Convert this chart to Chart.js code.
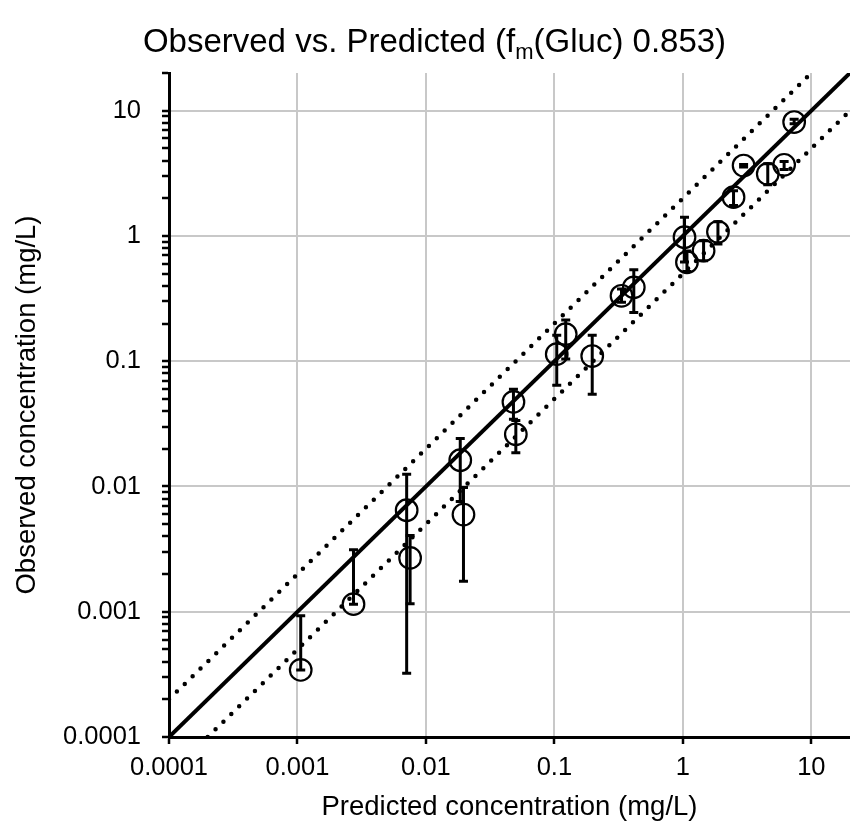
<!DOCTYPE html>
<html>
<head>
<meta charset="utf-8">
<script src="https://cdn.jsdelivr.net/npm/chart.js@4/dist/chart.umd.min.js"></script>
<style>
  html, body { margin: 0; padding: 0; background: #fff; }
  canvas { display: block; }
</style>
</head>
<body>
<canvas id="chart" width="850" height="827"></canvas>
<script>
// Observed vs predicted concentrations (mg/L), with observed ranges
const predicted    = [0.00106, 0.00273, 0.00708, 0.00753, 0.0185, 0.0196, 0.048, 0.0501, 0.1043, 0.1225, 0.197, 0.333, 0.415, 1.03, 1.076, 1.45, 1.875, 2.48, 2.97, 4.58, 6.14, 7.35];
const observed     = [0.000343, 0.00115, 0.00646, 0.00269, 0.0162, 0.00597, 0.0473, 0.0261, 0.1138, 0.1645, 0.110, 0.333, 0.389, 0.977, 0.617, 0.763, 1.08, 2.04, 3.65, 3.13, 3.70, 8.12];
const observedLow  = [0.000343, 0.00115, 0.000323, 0.00116, 0.0076, 0.00175, 0.0344, 0.0186, 0.0643, 0.104, 0.0545, 0.295, 0.245, 0.62, 0.52, 0.634, 0.863, 1.75, 3.55, 2.56, 3.39, 7.87];
const observedHigh = [0.00093, 0.00313, 0.0125, 0.00407, 0.0242, 0.0098, 0.0597, 0.0337, 0.161, 0.213, 0.161, 0.377, 0.537, 1.41, 0.76, 0.917, 1.30, 2.30, 3.72, 3.77, 3.93, 8.53];

// Axis range, decade ticks and their labels
const axisMin = 0.0001;
const axisMax = 20;
const decadeTicks  = [0.0001, 0.001, 0.01, 0.1, 1, 10];
const decadeLabels = ['0.0001', '0.001', '0.01', '0.1', '1', '10'];
const minorSteps   = [2, 3, 4, 5, 6, 7, 8, 9];

// Two-fold band around the line of unity
const foldBand = 2;

const FONT = "'Liberation Sans', Arial, Helvetica, sans-serif";

const points = predicted.map((x, i) => ({ x: x, y: observed[i], lo: observedLow[i], hi: observedHigh[i] }));

const unity = [{ x: axisMin, y: axisMin }, { x: axisMax, y: axisMax }];
const upperBand = [{ x: axisMin, y: axisMin * foldBand }, { x: axisMax / foldBand, y: axisMax }];
const lowerBand = [{ x: axisMin * foldBand, y: axisMin }, { x: axisMax, y: axisMax / foldBand }];

function isDecade(v) {
  return decadeTicks.some(d => Math.abs(v / d - 1) < 1e-6);
}
function labelFor(v) {
  const i = decadeTicks.findIndex(d => Math.abs(v / d - 1) < 1e-6);
  return i >= 0 ? decadeLabels[i] : '';
}

// Error bars drawn from each point's low/high values through the y scale
const errorBars = {
  id: 'errorBars',
  afterDatasetsDraw(chart) {
    const { ctx, scales: { x, y } } = chart;
    ctx.save();
    ctx.strokeStyle = '#000';
    ctx.lineWidth = 3;
    ctx.lineCap = 'butt';
    const cap = 4.5;
    points.forEach(p => {
      const px = x.getPixelForValue(p.x);
      const y1 = y.getPixelForValue(p.lo);
      const y2 = y.getPixelForValue(p.hi);
      ctx.beginPath();
      ctx.moveTo(px, y1); ctx.lineTo(px, y2);
      ctx.moveTo(px - cap, y1); ctx.lineTo(px + cap, y1);
      ctx.moveTo(px - cap, y2); ctx.lineTo(px + cap, y2);
      ctx.stroke();
    });
    ctx.restore();
  }
};

// Title with a subscript "m"
const titleWithSubscript = {
  id: 'titleWithSubscript',
  afterDraw(chart) {
    const ctx = chart.ctx;
    const big = '33px ' + FONT;
    const small = '22px ' + FONT;
    const parts = [
      { t: 'Observed vs. Predicted (f', f: big, dy: 0 },
      { t: 'm', f: small, dy: 7 },
      { t: '(Gluc) 0.853)', f: big, dy: 0 }
    ];
    ctx.save();
    ctx.fillStyle = '#000';
    ctx.textBaseline = 'alphabetic';
    ctx.textAlign = 'left';
    let total = 0;
    parts.forEach(p => { ctx.font = p.f; p.w = ctx.measureText(p.t).width; total += p.w; });
    let cx = 434.5 - total / 2;
    const baseY = 52;
    parts.forEach(p => { ctx.font = p.f; ctx.fillText(p.t, cx, baseY + p.dy); cx += p.w; });
    ctx.restore();
  }
};

new Chart(document.getElementById('chart'), {
  type: 'scatter',
  data: {
    datasets: [
      {
        data: points,
        showLine: false,
        pointStyle: 'circle',
        pointRadius: 10.8,
        pointBorderWidth: 2.2,
        pointBorderColor: '#000',
        pointBackgroundColor: 'rgba(0,0,0,0)',
        order: 1
      },
      {
        data: unity,
        showLine: true,
        borderColor: '#000',
        borderWidth: 4,
        pointRadius: 0,
        order: 2
      },
      {
        data: upperBand,
        showLine: true,
        borderColor: '#000',
        borderWidth: 4.5,
        borderDash: [0, 11],
        borderCapStyle: 'round',
        pointRadius: 0,
        order: 3
      },
      {
        data: lowerBand,
        showLine: true,
        borderColor: '#000',
        borderWidth: 4.5,
        borderDash: [0, 11],
        borderCapStyle: 'round',
        pointRadius: 0,
        order: 3
      }
    ]
  },
  options: {
    responsive: false,
    animation: false,
    devicePixelRatio: 1,
    layout: { autoPadding: false, padding: { top: 73, right: 0, bottom: 0, left: 0 } },
    plugins: {
      legend: { display: false },
      tooltip: { enabled: false },
      title: { display: false }
    },
    scales: {
      x: {
        type: 'logarithmic',
        min: axisMin,
        max: axisMax,
        afterBuildTicks(scale) {
          scale.ticks = decadeTicks.map(v => ({ value: v, major: true }));
        },
        afterFit(scale) {
          scale.height = 90;
          scale.paddingLeft = 0;
          scale.paddingRight = 0;
        },
        border: { color: '#000', width: 3 },
        grid: {
          color: '#c8c8c8',
          lineWidth: 2,
          tickColor: '#000',
          tickLength: 7,
          tickWidth: 2.5
        },
        ticks: {
          autoSkip: false,
          maxRotation: 0,
          padding: 9,
          color: '#000',
          font: { family: FONT, size: 25.5 },
          callback: (v) => labelFor(v)
        },
        title: {
          display: true,
          text: 'Predicted concentration (mg/L)',
          color: '#000',
          font: { family: FONT, size: 27.5 },
          padding: { top: 0, bottom: 3 }
        }
      },
      y: {
        type: 'logarithmic',
        min: axisMin,
        max: axisMax,
        afterBuildTicks(scale) {
          const ticks = [];
          decadeTicks.forEach(d => {
            ticks.push({ value: d, major: true });
            minorSteps.forEach(m => {
              const v = +(m * d).toPrecision(6);
              if (v <= axisMax) ticks.push({ value: v, major: false });
            });
          });
          scale.ticks = ticks;
        },
        afterFit(scale) {
          scale.width = 169;
          scale.paddingTop = 0;
          scale.paddingBottom = 0;
        },
        border: { color: '#000', width: 3 },
        grid: {
          color: (c) => (c.tick && isDecade(c.tick.value)) ? '#c8c8c8' : 'rgba(0,0,0,0)',
          lineWidth: 2,
          tickColor: '#000',
          tickLength: 7,
          tickWidth: 2.5
        },
        ticks: {
          autoSkip: false,
          padding: 21,
          color: '#000',
          font: { family: FONT, size: 25.5 },
          callback: (v) => labelFor(v)
        },
        title: {
          display: true,
          text: 'Observed concentration (mg/L)',
          color: '#000',
          font: { family: FONT, size: 27.5 },
          padding: { top: 11, bottom: 0 }
        }
      }
    }
  },
  plugins: [errorBars, titleWithSubscript]
});
</script>
</body>
</html>
